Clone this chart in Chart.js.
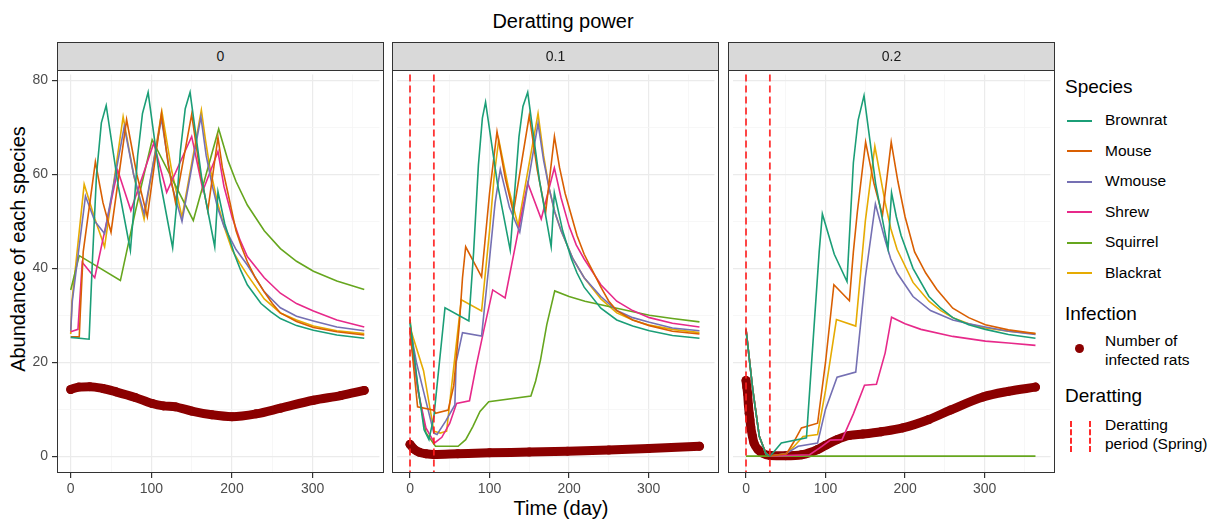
<!DOCTYPE html>
<html>
<head>
<meta charset="utf-8">
<script src="https://cdn.jsdelivr.net/npm/chart.js@4.4.1/dist/chart.umd.min.js"></script>
<style>
  body { margin: 0; background: #fff; font-family: "Liberation Sans", Arial, sans-serif; }
  #wrap { position: relative; width: 1217px; height: 520px; overflow: hidden; }
  canvas { position: absolute; top: 70px; }
  .strip { position: absolute; top: 42px; height: 29px; background: #d9d9d9; border: 1px solid #333;
           box-sizing: border-box; text-align: center; font-size: 14px; line-height: 27px; color: #1a1a1a; }
  .frame { position: absolute; top: 70px; height: 403px; border: 1px solid #333; box-sizing: border-box; pointer-events: none; }
  .txt { position: absolute; white-space: nowrap; color: #000; }
  .key { position: absolute; height: 2px; width: 25px; left: 1067px; }
</style>
</head>
<body>
<div id="wrap">
  <div class="txt" style="left:563px; top:10px; font-size:20px; transform:translateX(-50%)">Deratting power</div>
  <div class="txt" style="left:561px; top:497px; font-size:20px; transform:translateX(-50%)">Time (day)</div>
  <div class="txt" style="left:18px; top:249px; font-size:20px; transform:translate(-50%,-50%) rotate(-90deg)">Abundance of each species</div>

  <canvas id="p0" width="384" height="450" style="left:0px"></canvas>
  <canvas id="p1" width="327" height="450" style="left:392px"></canvas>
  <canvas id="p2" width="327" height="450" style="left:728px"></canvas>

  <div class="strip" style="left:57px; width:327px">0</div>
  <div class="strip" style="left:392px; width:327px">0.1</div>
  <div class="strip" style="left:728px; width:327px">0.2</div>
  <div class="frame" style="left:57px; width:327px"></div>
  <div class="frame" style="left:392px; width:327px"></div>
  <div class="frame" style="left:728px; width:327px"></div>

  <div id="legend"></div>
</div>
<script>
// facet values (deratting power)
const facets = ["0", "0.1", "0.2"];
const speciesNames = ["Brownrat", "Mouse", "Wmouse", "Shrew", "Squirrel", "Blackrat"];
const speciesColors = ["#1B9E77", "#D95F02", "#7570B3", "#E7298A", "#66A61E", "#E6AB02"];
const deratDays = [0, 30];
const xTicks = [0, 100, 200, 300];
const xGrid = [0, 50, 100, 150, 200, 250, 300, 350];
const yTicks = [0, 20, 40, 60, 80];
const yGrid = [0, 10, 20, 30, 40, 50, 60, 70, 80];

// ---- deratting power 0 : [day, abundance]
const brownrat0 = [[0,25.3],[22.8,24.9],[27,42],[32,60],[38,71],[44,74.7],[59,57.5],[74,43.8],[78,52],[83,64],[89,73],[96,77.5],[111,58.5],[126.4,44.4],[131,53],[136,65],[142,74],[148,77.5],[163,58.5],[178.6,44.6],[182.6,56.3],[191,49.5],[203,43],[211,39.5],[219,36.5],[236,32.5],[248,30.8],[260,29.3],[280,27.8],[301,26.8],[330,25.8],[364,25.1]];
const mouse0 = [[0,25.4],[10.6,25.4],[12,31],[15.5,43.5],[30.6,62.7],[40,54],[50,47.7],[69.3,71.7],[82,60],[95,51],[112.5,73],[121,62],[130,54],[150,72.8],[160,61],[170,52.3],[182.6,67.9],[188,61.5],[195,56],[205,48],[212,44.5],[219,41.4],[229,38],[240,35],[250,32.5],[260,30.5],[280,28.7],[301,27.4],[330,26.5],[364,25.8]];
const wmouse0 = [[0,26.7],[2,33],[18.3,55.4],[30,50],[42,47.4],[66.4,70.2],[78,60],[91,51.6],[112.5,71.9],[125,58],[138,50],[161.4,72.3],[168,64],[175,58],[182,53],[190,49],[205,44],[219,40.7],[240,35],[260,31.6],[280,29.8],[301,28.8],[330,27.5],[364,26.7]];
const shrew0 = [[0,26.5],[9,27],[14.3,41.3],[29.8,38],[58.3,60.9],[74.6,52.3],[103,66.7],[119,56.2],[150,68.1],[164,56.6],[182.6,64.9],[190,57.5],[200,51],[210,46],[219,42.5],[240,38],[260,34.7],[280,32.5],[301,30.9],[330,29],[364,27.5]];
const squirrel0 = [[0,35.4],[10.6,42.7],[61.6,37.4],[80,52],[101,67.4],[152,50.2],[183.5,69.7],[195,63],[205,58.5],[219,53.5],[240,48],[260,44.2],[280,41.5],[301,39.4],[330,37.3],[364,35.5]];
const blackrat0 = [[0,26],[1.5,33],[16.7,57.9],[30,50.5],[42,44.6],[65,72.3],[78,60],[91,50.5],[113,73.5],[125,61],[138,50.9],[162,73.7],[167,67.5],[172,62],[182,54],[191,48.5],[200,44],[210,41],[219,38.6],[240,33.5],[260,30.5],[280,29],[301,27.7],[330,26.7],[364,26.1]];
const infected0 = [[0,14.2],[10,14.7],[23.6,14.8],[40,14.4],[56,13.7],[80,12.5],[101,11.2],[115,10.7],[129.6,10.5],[150,9.6],[175,8.8],[200,8.4],[230,9],[260,10.2],[301,11.9],[335,12.9],[364,14]];

// ---- deratting power 0.1
const brownrat1 = [[0,28.4],[9.5,15.4],[17.7,5.6],[23.8,3.5],[30,8.4],[44,31.6],[74,28.8],[80,43.5],[86,62],[91,72],[95,75.4],[110,58],[126,43.9],[131,55],[137,68],[142,74.5],[148,77.5],[163,58.5],[177.5,44.6],[181.5,56.1],[192,48],[203,42],[210,39],[219,36],[240,31.5],[260,29],[280,27.7],[301,26.7],[330,25.7],[364,25.1]];
const mouse1 = [[0,26.7],[9.5,10.5],[30,9.8],[32,9.1],[48,9.8],[55,15],[62,28],[66,38],[70,44.6],[90,38.2],[100,56],[109.4,69.1],[120,59],[130,51.9],[150,72.6],[160,61],[170.5,51.9],[181.6,68.1],[188,61.5],[195,56],[210,47],[219,43],[240,36],[250,33],[260,31],[280,29],[301,27.8],[330,26.6],[364,26]];
const wmouse1 = [[0,27.4],[8,20],[17.7,13.3],[30,4.9],[34,4.6],[45,7.5],[56.4,10.9],[58,20],[66,26.3],[90,25.6],[100,42],[107,54],[113.5,61.1],[125,53],[138,47.7],[161,70.9],[168,63],[175,57],[182,52],[190,48],[205,42],[219,38],[240,34],[260,31],[280,29.5],[301,28.5],[330,27.3],[364,26.7]];
const shrew1 = [[0,26],[10,14],[20,6],[30.8,2.8],[40,4],[50,7],[58.5,11.2],[74.8,11.8],[83,19],[93,27],[104,35.4],[119.6,33.7],[148,58.2],[165,50.5],[181.5,61.4],[190,55],[200,49],[209,45],[219,42],[240,36.5],[260,33],[280,31],[301,29.5],[330,28.3],[364,27.5]];
const squirrel1 = [[0,29.1],[10,14],[20,5],[32,2.1],[60.5,2.1],[70,3.5],[79,6.3],[88,9.5],[99,11.6],[152,12.8],[158,16],[164,20.4],[172,28],[182,35.2],[200,34],[220,33],[260,31.5],[301,30],[330,29.3],[364,28.6]];
const blackrat1 = [[0,27.4],[17,18.2],[30,5.3],[38,4.9],[46,5.3],[55,19],[64.5,33.3],[90,30.9],[100,48],[106,60],[111.6,67.4],[124,57],[136,49.1],[161,73],[168,64],[175,57],[182,52],[190,48],[205,42],[219,38],[240,33.5],[260,30.5],[280,29],[301,27.9],[330,27],[364,26.3]];
const infected1 = [[0,2.5],[5,1.5],[12,0.8],[20,0.5],[30,0.35],[60,0.5],[100,0.7],[150,0.85],[198,1.05],[250,1.3],[300,1.6],[364,2.1]];

// ---- deratting power 0.2
const brownrat2 = [[0,27],[8.6,14],[16.7,4.2],[25,0.5],[30,0],[34,0.7],[44.4,2.8],[76,3.9],[92,43.5],[96,51.6],[111,43],[127,37.2],[135,62.5],[141,71.6],[148.4,76.8],[163,58],[178.6,44.2],[183,56.1],[189,51],[195,47],[210,40],[230,34],[245,31.5],[260,29.5],[280,28],[301,27],[330,25.9],[364,25.1]];
const mouse2 = [[0,27],[8.6,14],[16.7,4.2],[25,0.5],[30,0],[51,0.5],[60,3],[69.7,6],[90,7],[100,20],[110.5,36.5],[130,33.1],[135,43.5],[140,52],[150.4,66.9],[161,58],[171.6,51.3],[182.6,66.9],[191,58.5],[200,51],[212,43.5],[226,39],[240,35.5],[260,31.5],[280,29.5],[301,28],[330,26.9],[364,26.1]];
const wmouse2 = [[0,27],[8.6,14],[16.7,4.2],[25,0.5],[30,0],[50,0.5],[65.6,2.1],[90,2.8],[100,10],[114.5,16.8],[138,17.9],[150,38],[162.7,53.7],[175,46],[182,42],[190,39],[210,34],[232,31],[260,29],[280,28.2],[301,27.5],[330,26.6],[364,25.9]];
const shrew2 = [[0,27],[8.6,14],[16.7,4.2],[25,0.5],[30,0],[80,0.3],[95,2],[106,3.4],[120.7,3.5],[135,9],[149,15.1],[164,15.3],[175,22],[183,29.6],[200,28.2],[220,27],[260,25.5],[301,24.5],[330,24.1],[364,23.6]];
const squirrel2 = [[0,0],[364,0]];
const blackrat2 = [[0,27],[8.6,14],[16.7,4.2],[25,0.5],[30,0],[50,0.5],[60,2],[71.7,4.2],[90,4.6],[100,14],[113.7,29.1],[138,27.7],[150,50],[162,66],[175,54],[182,48.5],[190,44],[210,37],[230,33],[245,31],[260,29.5],[280,28.2],[301,27.3],[330,26.6],[364,26.1]];
const infected2 = [[0,16.1],[1,14.7],[2,13.3],[3,10.9],[4,9.1],[5,7.7],[6,6.2],[8,4.3],[10,2.8],[15,1.4],[20,0.7],[30,0.15],[50,0.1],[70,0.3],[90,1.4],[100,2.3],[114.5,3.5],[130,4.4],[147,4.7],[170,5.2],[197,6],[230,7.8],[257,9.8],[298,12.6],[330,13.8],[364,14.7]];

const panelSpecies = [
  [brownrat0, mouse0, wmouse0, shrew0, squirrel0, blackrat0],
  [brownrat1, mouse1, wmouse1, shrew1, squirrel1, blackrat1],
  [brownrat2, mouse2, wmouse2, shrew2, squirrel2, blackrat2]
];
const panelInfected = [infected0, infected1, infected2];
const panelDerat = [[], deratDays, deratDays];

const toXY = arr => arr.map(p => ({ x: p[0], y: p[1] }));

// dashed vertical lines for the deratting period
const deratPlugin = {
  id: 'derat',
  afterDatasetsDraw(chart, args, opts) {
    const { ctx, chartArea, scales } = chart;
    ctx.save();
    ctx.strokeStyle = 'rgba(255,30,30,0.9)';
    ctx.lineWidth = 1.8;
    ctx.setLineDash([7, 4]);
    (opts.days || []).forEach(d => {
      const x = scales.x.getPixelForValue(d);
      ctx.beginPath();
      ctx.moveTo(x, chartArea.top);
      ctx.lineTo(x, chartArea.bottom);
      ctx.stroke();
    });
    ctx.restore();
  }
};

const isMajor = (c, list) => c.tick && list.includes(c.tick.value);

function makePanel(i) {
  const datasets = panelSpecies[i].map((s, k) => ({
    label: speciesNames[k],
    data: toXY(s),
    borderColor: speciesColors[k],
    borderWidth: 1.6,
    pointRadius: 0,
    tension: 0,
    order: 1
  }));
  datasets.push({
    label: 'Number of infected rats',
    data: toXY(panelInfected[i]),
    borderColor: '#8B0000',
    backgroundColor: '#8B0000',
    borderWidth: 9,
    borderCapStyle: 'round',
    borderJoinStyle: 'round',
    cubicInterpolationMode: 'monotone',
    pointRadius: 4.5,
    pointBorderWidth: 0,
    order: 2
  });

  const first = i === 0;
  new Chart(document.getElementById('p' + i), {
    type: 'line',
    data: { datasets },
    options: {
      responsive: false,
      animation: false,
      layout: { padding: 0 },
      plugins: {
        legend: { display: false },
        tooltip: { enabled: false },
        derat: { days: panelDerat[i] }
      },
      scales: {
        x: {
          type: 'linear',
          min: -17, max: 382.9,
          afterBuildTicks: s => { s.ticks = xGrid.map(v => ({ value: v })); },
          ticks: {
            autoSkip: false, maxRotation: 0,
            color: '#4d4d4d', font: { size: 14, family: 'Liberation Sans' }, padding: 3,
            callback: v => xTicks.includes(v) ? v : ''
          },
          grid: {
            color: c => isMajor(c, xTicks) ? '#ebebeb' : '#f5f5f5',
            lineWidth: c => isMajor(c, xTicks) ? 1.2 : 0.8,
            tickLength: 5,
            tickColor: c => isMajor(c, xTicks) ? '#333' : 'rgba(0,0,0,0)'
          },
          border: { display: false },
          afterFit: s => { s.height = 47; s.paddingLeft = 0; s.paddingRight = 0; }
        },
        y: {
          min: -3.6, max: 81.3,
          afterBuildTicks: s => { s.ticks = yGrid.map(v => ({ value: v })); },
          ticks: {
            display: first,
            color: '#4d4d4d', font: { size: 14, family: 'Liberation Sans' }, padding: 4,
            callback: v => yTicks.includes(v) ? v : ''
          },
          grid: {
            color: c => isMajor(c, yTicks) ? '#ebebeb' : '#f5f5f5',
            lineWidth: c => isMajor(c, yTicks) ? 1.2 : 0.8,
            drawTicks: first,
            tickLength: 5,
            tickColor: c => isMajor(c, yTicks) ? '#333' : 'rgba(0,0,0,0)'
          },
          border: { display: false },
          afterFit: s => { s.width = first ? 57 : 0; s.paddingTop = 0; s.paddingBottom = 0; }
        }
      }
    },
    plugins: [deratPlugin]
  });
}

facets.forEach((f, i) => makePanel(i));

// ---- legend
const lg = document.getElementById('legend');
function addText(txt, left, cy, size) {
  const d = document.createElement('div');
  d.className = 'txt';
  d.style.left = left + 'px';
  d.style.top = (cy - size * 0.6) + 'px';
  d.style.fontSize = size + 'px';
  d.style.lineHeight = (size * 1.2) + 'px';
  d.textContent = txt;
  lg.appendChild(d);
}
addText('Species', 1065, 87, 19);
speciesNames.forEach((n, k) => {
  const cy = 120.5 + k * 30.5;
  const key = document.createElement('div');
  key.className = 'key';
  key.style.top = (cy - 1) + 'px';
  key.style.background = speciesColors[k];
  lg.appendChild(key);
  addText(n, 1105, cy, 15.5);
});
addText('Infection', 1065, 314, 19);
addText('Number of', 1105, 341.5, 15.5);
addText('infected rats', 1105, 360.5, 15.5);
const dot = document.createElement('div');
dot.style.cssText = 'position:absolute;left:1075px;top:344px;width:9px;height:9px;border-radius:50%;background:#8B0000';
lg.appendChild(dot);
addText('Deratting', 1065, 396, 19);
addText('Deratting', 1105, 425, 15.5);
addText('period (Spring)', 1105, 444, 15.5);
[1070, 1088.5].forEach(x => {
  const d = document.createElement('div');
  d.style.cssText = 'position:absolute;top:421px;height:31px;width:0;border-left:2px dashed #ff2a2a;left:' + x + 'px';
  lg.appendChild(d);
});
</script>
</body>
</html>
